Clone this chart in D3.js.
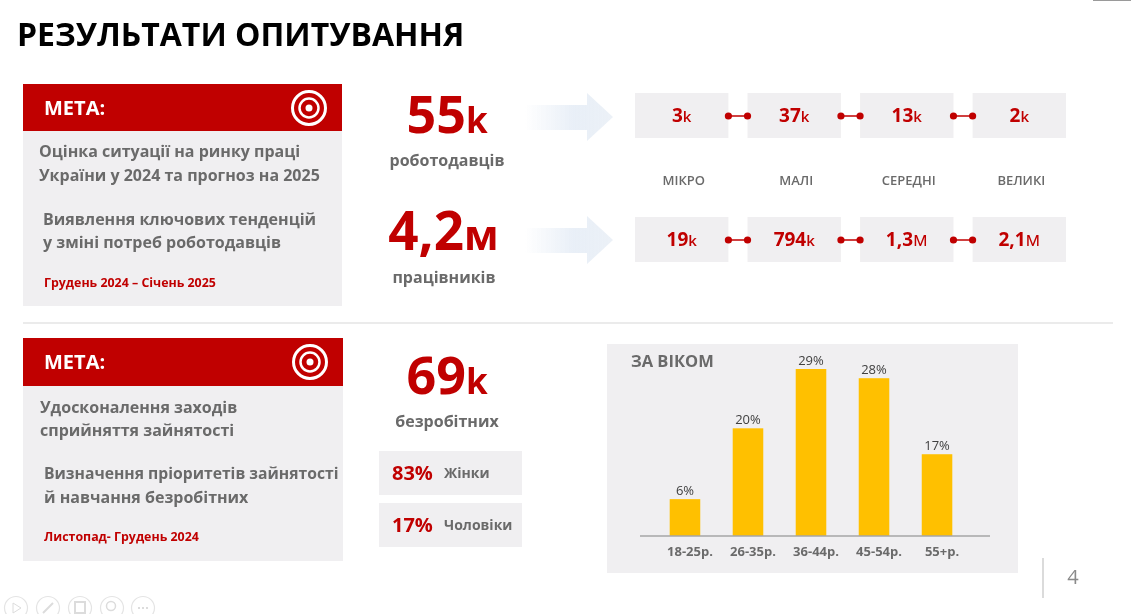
<!DOCTYPE html>
<html>
<head>
<meta charset="utf-8">
<script src="https://cdn.jsdelivr.net/npm/d3@7"></script>
<style>
  html, body { margin: 0; padding: 0; background: #fff; overflow: hidden; }
  text { font-family: "Open Sans", sans-serif; font-weight: 700; }
  svg { filter: blur(0.35px); }
</style>
</head>
<body>
<main></main>
<script>
const sizeCategories = ["МІКРО", "МАЛІ", "СЕРЕДНІ", "ВЕЛИКІ"];
const employerValues = ["3", "37", "13", "2"];
const employerUnits = ["k", "k", "k", "k"];
const workerValues = ["19", "794", "1,3", "2,1"];
const workerUnits = ["k", "k", "м", "м"];

const genderShares = ["83%", "17%"];
const genderLabels = ["Жінки", "Чоловіки"];

const ageGroups = ["18-25р.", "26-35р.", "36-44р.", "45-54р.", "55+р."];
const ageLabels = ["6%", "20%", "29%", "28%", "17%"];
// bar heights in the picture are not quite proportional to their labels, so these are read off the bars
const ageBarLevels = [6.4, 18.7, 29, 27.4, 14.2];

const RED = "#c00000";
const GREY = "#6a6a6a";
const PANEL = "#f0eff1";

const svg = d3.select("main").append("svg")
  .attr("width", 1131)
  .attr("height", 614)
  .style("display", "block");

const defs = svg.append("defs");
const arrowFill = defs.append("linearGradient").attr("id", "arrowFill");
arrowFill.append("stop").attr("offset", "0%").attr("stop-color", "#e3ebf5").attr("stop-opacity", 0);
arrowFill.append("stop").attr("offset", "55%").attr("stop-color", "#e3ebf5").attr("stop-opacity", 0.8);
arrowFill.append("stop").attr("offset", "100%").attr("stop-color", "#ecf1f7");

const addText = (parent, x, y, str, size, fill, anchor) => {
  return parent.append("text")
    .attr("x", x)
    .attr("y", y)
    .attr("font-size", size)
    .attr("fill", fill)
    .attr("text-anchor", anchor || "start")
    .text(str);
};

// number with a smaller unit after it, like 55k
const addAmount = (parent, x, y, value, unit, size, unitSize, unitWeight) => {
  const t = parent.append("text")
    .attr("x", x)
    .attr("y", y)
    .attr("text-anchor", "middle")
    .attr("fill", RED);
  t.append("tspan").attr("font-size", size).text(value);
  t.append("tspan").attr("font-size", unitSize).style("font-weight", unitWeight || 700).text(unit);
  return t;
};

const drawGoalPanel = (x, y, w, h, headH, lines, date) => {
  const g = svg.append("g");
  g.append("rect").attr("x", x).attr("y", y).attr("width", w).attr("height", h).attr("fill", PANEL);
  g.append("rect").attr("x", x).attr("y", y).attr("width", w).attr("height", headH).attr("fill", RED);
  addText(g, x + 21, y + 31, "МЕТА:", 20, "#fff");

  const cx = x + w - 33, cy = y + 24;
  g.append("circle").attr("cx", cx).attr("cy", cy).attr("r", 16.5)
    .attr("fill", "none").attr("stroke", "#fff").attr("stroke-width", 3);
  g.append("circle").attr("cx", cx).attr("cy", cy).attr("r", 9.5)
    .attr("fill", "none").attr("stroke", "#fff").attr("stroke-width", 2.5);
  g.append("circle").attr("cx", cx).attr("cy", cy).attr("r", 3.5).attr("fill", "#fff");

  lines.forEach(l => addText(g, l.x, l.y, l.text, l.size || 16, GREY));
  addText(g, x + 21, date.y, date.text, 12.4, RED);
};

const drawArrow = (x, y) => {
  const path = d3.path();
  path.moveTo(x, y + 12);
  path.lineTo(x + 62, y + 12);
  path.lineTo(x + 62, y);
  path.lineTo(x + 88, y + 24);
  path.lineTo(x + 62, y + 48);
  path.lineTo(x + 62, y + 37);
  path.lineTo(x, y + 37);
  path.closePath();
  svg.append("path").attr("d", path.toString()).attr("fill", "url(#arrowFill)");
};

const sizeX = d3.scaleBand()
  .domain(sizeCategories)
  .range([635, 1066])
  .paddingInner(0.17);

const drawSizeRow = (top, values, units) => {
  const row = svg.append("g");
  const boxH = 45;
  row.selectAll("rect")
    .data(sizeCategories)
    .enter()
    .append("rect")
    .attr("x", d => sizeX(d))
    .attr("y", top)
    .attr("width", sizeX.bandwidth())
    .attr("height", boxH)
    .attr("fill", PANEL);

  sizeCategories.forEach((d, i) => {
    const isMillion = units[i] === "м";
    addAmount(row, sizeX(d) + sizeX.bandwidth() / 2, top + 29, values[i], units[i], 19,
      isMillion ? 20 : 15, isMillion ? 400 : 600);
    if (i < sizeCategories.length - 1) {
      const x1 = sizeX(d) + sizeX.bandwidth();
      const x2 = sizeX(sizeCategories[i + 1]);
      row.append("line").attr("x1", x1).attr("x2", x2).attr("y1", top + 23).attr("y2", top + 23)
        .attr("stroke", RED).attr("stroke-width", 1.5);
      [x1, x2].forEach(cx => {
        row.append("circle").attr("cx", cx).attr("cy", top + 23).attr("r", 3.6).attr("fill", RED);
      });
    }
  });
};

const drawAgeChart = () => {
  const baseY = 536;
  const panel = svg.append("g");
  panel.append("rect").attr("x", 607).attr("y", 344).attr("width", 411).attr("height", 229).attr("fill", PANEL);
  addText(panel, 631, 367, "ЗА ВІКОМ", 16.5, GREY);

  const x = d3.scaleBand().domain(ageGroups).range([653.5, 968.5]).paddingInner(0.515).paddingOuter(0.257);
  const y = d3.scaleLinear().domain([0, 29]).range([baseY, 369]);

  panel.selectAll(".bar")
    .data(ageGroups)
    .enter()
    .append("rect")
    .attr("class", "bar")
    .attr("x", d => x(d))
    .attr("y", (d, i) => y(ageBarLevels[i]))
    .attr("width", x.bandwidth())
    .attr("height", (d, i) => baseY - y(ageBarLevels[i]))
    .attr("fill", "#ffc000");

  panel.selectAll(".bar-label")
    .data(ageLabels)
    .enter()
    .append("text")
    .attr("class", "bar-label")
    .attr("x", (d, i) => x(ageGroups[i]) + x.bandwidth() / 2)
    .attr("y", (d, i) => y(ageBarLevels[i]) - 4)
    .attr("text-anchor", "middle")
    .attr("font-size", 13)
    .attr("fill", "#404040")
    .style("font-weight", 400)
    .text(d => d);

  const axis = panel.append("g")
    .attr("transform", "translate(0," + baseY + ")")
    .call(d3.axisBottom(x).tickSize(0).tickPadding(11));
  axis.select(".domain").remove();
  axis.append("line").attr("x1", 640).attr("x2", 990).attr("stroke", "#a6a6a6").attr("stroke-width", 1.5);
  axis.selectAll(".tick text")
    .attr("dx", 5)
    .attr("font-size", 13)
    .attr("font-family", "Open Sans")
    .attr("fill", GREY);
};

const drawChrome = () => {
  // faint slideshow controls along the bottom edge
  const controls = [16, 48, 80, 112, 143];
  svg.selectAll(".ctl")
    .data(controls)
    .enter()
    .append("circle")
    .attr("class", "ctl")
    .attr("cx", d => d)
    .attr("cy", 608)
    .attr("r", 11.5)
    .attr("fill", "none")
    .attr("stroke", "#e4e4e4")
    .attr("stroke-width", 1.2);
  svg.append("path").attr("d", "M13 603 L21 608 L13 613 Z").attr("fill", "none").attr("stroke", "#dcdcdc");
  svg.append("line").attr("x1", 43).attr("x2", 53).attr("y1", 613).attr("y2", 603).attr("stroke", "#dcdcdc").attr("stroke-width", 2);
  svg.append("rect").attr("x", 75).attr("y", 602).attr("width", 10).attr("height", 11).attr("fill", "none").attr("stroke", "#dcdcdc").attr("stroke-width", 2);
  svg.append("circle").attr("cx", 111).attr("cy", 606).attr("r", 4.5).attr("fill", "none").attr("stroke", "#dcdcdc").attr("stroke-width", 1.5);
  svg.append("line").attr("x1", 138).attr("x2", 148).attr("y1", 608).attr("y2", 608).attr("stroke", "#dcdcdc").attr("stroke-width", 2).attr("stroke-dasharray", "2 2");

  svg.append("line").attr("x1", 1093).attr("x2", 1131).attr("y1", 0.5).attr("y2", 0.5).attr("stroke", "#9a9a9a");
  svg.append("line").attr("x1", 1043).attr("x2", 1043).attr("y1", 558).attr("y2", 598).attr("stroke", "#cfcfcf").attr("stroke-width", 1.5);
  addText(svg, 1073, 584, "4", 20, "#8a8a8a", "middle").style("font-weight", 400);
  svg.append("line").attr("x1", 23).attr("x2", 1113).attr("y1", 323).attr("y2", 323).attr("stroke", "#e4e4e4").attr("stroke-width", 1.5);
};

const driver = () => {
  drawChrome();
  addText(svg, 17, 46, "РЕЗУЛЬТАТИ ОПИТУВАННЯ", 32, "#000");

  drawGoalPanel(23, 84, 319, 222, 47, [
    { x: 39, y: 157, text: "Оцінка ситуації на ринку праці" },
    { x: 39, y: 181, text: "України у 2024 та прогноз на 2025" },
    { x: 43, y: 225, text: "Виявлення ключових тенденцій" },
    { x: 43, y: 248, text: "у зміні потреб роботодавців" }
  ], { y: 287, text: "Грудень 2024 – Січень 2025" });

  drawGoalPanel(23, 338, 320, 223, 48, [
    { x: 40, y: 413, text: "Удосконалення заходів" },
    { x: 40, y: 436, text: "сприйняття зайнятості" },
    { x: 44, y: 479, text: "Визначення пріоритетів зайнятості", size: 15.7 },
    { x: 44, y: 503, text: "й навчання безробітних" }
  ], { y: 541, text: "Листопад- Грудень 2024" });

  addAmount(svg, 447, 133, "55", "k", 52, 35);
  addText(svg, 447, 166, "роботодавців", 16, GREY, "middle");
  addAmount(svg, 443.5, 250, "4,2", "м", 53, 41);
  addText(svg, 444, 283, "працівників", 16, GREY, "middle");
  addAmount(svg, 447, 394, "69", "k", 52, 35);
  addText(svg, 447, 427, "безробітних", 16, GREY, "middle");

  drawArrow(525, 93);
  drawArrow(525, 216);

  drawSizeRow(93, employerValues, employerUnits);
  drawSizeRow(217, workerValues, workerUnits);
  svg.selectAll(".size-label")
    .data(sizeCategories)
    .enter()
    .append("text")
    .attr("class", "size-label")
    .attr("x", d => sizeX(d) + sizeX.bandwidth() / 2 + 2)
    .attr("y", 185)
    .attr("text-anchor", "middle")
    .attr("font-size", 13)
    .attr("fill", GREY)
    .style("font-weight", 600)
    .text(d => d);

  genderShares.forEach((share, i) => {
    const top = [451, 503][i];
    svg.append("rect").attr("x", 379).attr("y", top).attr("width", 143).attr("height", 44).attr("fill", PANEL);
    addText(svg, 392, top + 29, share, 20, RED);
    addText(svg, 444, top + 27, genderLabels[i], 14, GREY);
  });

  drawAgeChart();
};

driver();
</script>
</body>
</html>
